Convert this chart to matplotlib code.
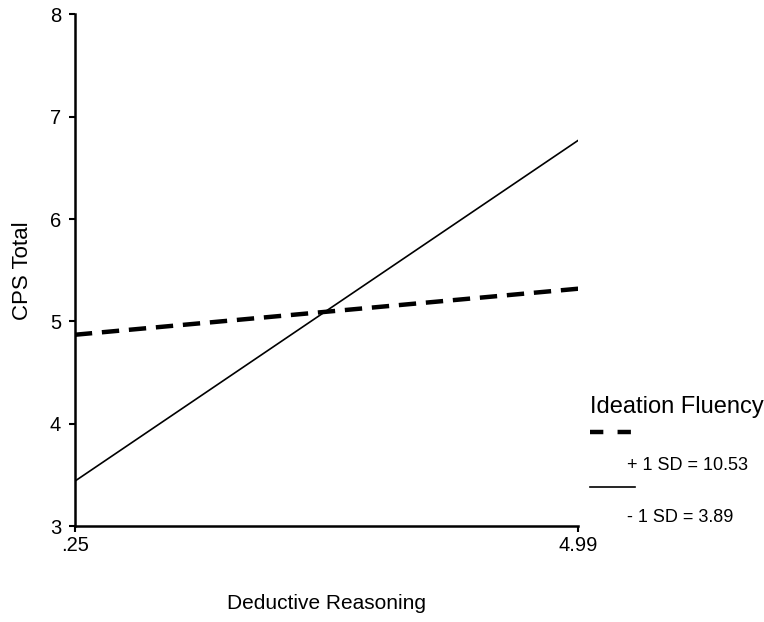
import matplotlib.pyplot as plt
from matplotlib.lines import Line2D

plt.rcParams['font.family'] = ['Liberation Sans', 'DejaVu Sans']

# simple slopes at the two ends of deductive reasoning
x_vals = [0.25, 4.99]
high_sd = [4.87, 5.32]   # + 1 SD = 10.53
low_sd = [3.44, 6.77]    # - 1 SD = 3.89

y_ticks = [3, 4, 5, 6, 7, 8]
x_ticks = [0.25, 4.99]
x_tick_labels = ['.25', '4.99']

fig = plt.figure(figsize=(7.64, 6.22), dpi=100)
ax = fig.add_axes([0.098, 0.154, 0.659, 0.823])

ax.plot(x_vals, high_sd, color='black', lw=3.2, dashes=(3.9, 2.2),
        solid_capstyle='butt', dash_capstyle='butt')
ax.plot(x_vals, low_sd, color='black', lw=1.2)

ax.set_xlim(0.25, 4.99)
ax.set_ylim(3, 8)
ax.set_xticks(x_ticks)
ax.set_xticklabels(x_tick_labels)
ax.set_yticks(y_ticks)
ax.tick_params(direction='out', length=4, width=1.5, labelsize=14.5)
ax.tick_params(axis='y', pad=6)
ax.tick_params(axis='x', pad=3)

for s in ['top', 'right']:
    ax.spines[s].set_visible(False)
for s in ['left', 'bottom']:
    ax.spines[s].set_linewidth(1.8)

ax.set_xlabel('Deductive Reasoning', fontsize=15, labelpad=28)
ax.set_ylabel('CPS Total', fontsize=16, labelpad=12)

# legend drawn by hand (handle above each label)
def fx(px):
    return px / 764

def fy(py):
    return 1 - py / 622

fig.text(fx(590), fy(407), 'Ideation Fluency', fontsize=17, va='center', ha='left')
fig.add_artist(Line2D([fx(590), fx(635)], [fy(432), fy(432)], color='black',
                      lw=3.2, dashes=(3, 3.2), dash_capstyle='butt'))
fig.text(fx(627), fy(466), '+ 1 SD = 10.53', fontsize=13, va='center', ha='left')
fig.add_artist(Line2D([fx(590), fx(635)], [fy(487), fy(487)], color='black', lw=1.2))
fig.text(fx(627), fy(517), '- 1 SD = 3.89', fontsize=13, va='center', ha='left')

fig.savefig('out.png', dpi=100)
